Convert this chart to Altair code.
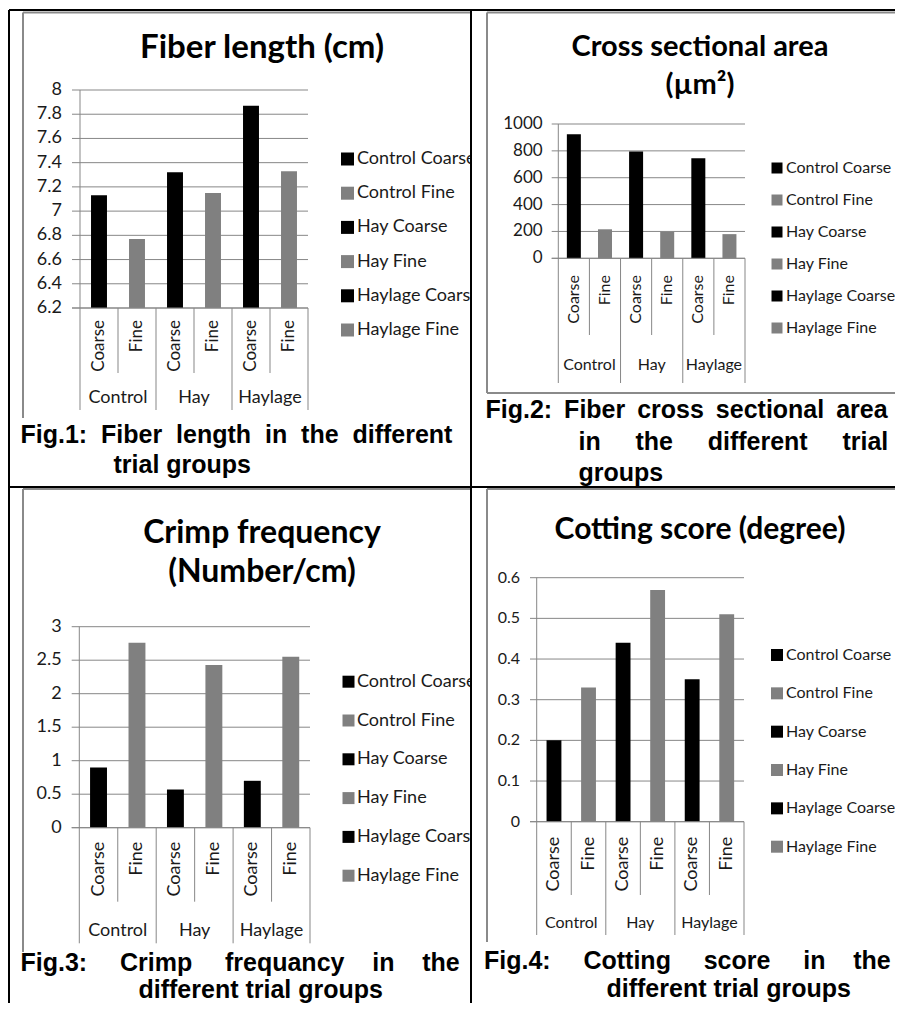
import altair as alt
import pandas as pd

# ---------------- data ----------------
groups = ["Control", "Hay", "Haylage"]
fiber_types = ["Coarse", "Fine"]
series_names = ["Control Coarse", "Control Fine", "Hay Coarse", "Hay Fine",
                "Haylage Coarse", "Haylage Fine"]

fiber_length = [7.13, 6.77, 7.32, 7.15, 7.87, 7.33]
cross_area = [923, 216, 795, 198, 745, 180]
crimp_freq = [0.90, 2.76, 0.57, 2.43, 0.70, 2.55]
cotting_score = [0.20, 0.33, 0.44, 0.57, 0.35, 0.51]

length_ticks = [6.2, 6.4, 6.6, 6.8, 7.0, 7.2, 7.4, 7.6, 7.8, 8.0]
length_tick_labels = ["6.2", "6.4", "6.6", "6.8", "7", "7.2", "7.4", "7.6", "7.8", "8"]
area_ticks = [0, 200, 400, 600, 800, 1000]
area_tick_labels = ["0", "200", "400", "600", "800", "1000"]
crimp_ticks = [0, 0.5, 1, 1.5, 2, 2.5, 3]
crimp_tick_labels = ["0", "0.5", "1", "1.5", "2", "2.5", "3"]
cotting_ticks = [0, 0.1, 0.2, 0.3, 0.4, 0.5, 0.6]
cotting_tick_labels = ["0", "0.1", "0.2", "0.3", "0.4", "0.5", "0.6"]

title_1 = ["Fiber length (cm)"]
title_2 = ["Cross sectional area", "(\u00b5m\u00b2)"]
title_3 = ["Crimp frequency", "(Number/cm)"]
title_4 = ["Cotting score (degree)"]

caption_1 = ["Fig.1: Fiber length in the different", "trial groups"]
caption_2 = ["Fig.2: Fiber cross sectional area", "in the different trial", "groups"]
caption_3 = ["Fig.3: Crimp frequancy in the", "different trial groups"]
caption_4 = ["Fig.4: Cotting score in the", "different trial groups"]

# ---------------- styles ----------------
FONT = "Lato"
CAP_FONT = "Liberation Sans"
BLACK = "#000000"
GRAY = "#808080"
GRID = "#878787"
FRAME_GRAY = "#8a8a8a"
TXT = "#1a1a1a"
NB = "\u00a0"
THIN = "\u2009"


def X(v):
    return v - 8


def Y(v):
    return v - 8


ONE = alt.Data(values=[{}])


def seg(x1, y1, x2, y2, color, width):
    return alt.Chart(ONE).mark_rule(color=color, strokeWidth=width).encode(
        x=alt.value(X(x1)), y=alt.value(Y(y1)), x2=alt.value(X(x2)), y2=alt.value(Y(y2)))


def text_line(s, x, y, size, font, weight="normal", align="center", color="#000000"):
    return alt.Chart(ONE).mark_text(
        text=s, x=X(x), y=Y(y), fontSize=size, font=font, fontWeight=weight,
        align=align, baseline="middle", color=color)


def gap(n):
    return NB * int(n) + (THIN if n % 1 else "")


def justify(line, gaps):
    words = line.split(" ")
    out = words[0]
    for w, g in zip(words[1:], gaps):
        out += gap(g) + w
    return out


def panel(values, ticks, tick_labels, titles, captions, L):
    keys = [f"{g}|{t}" for g in groups for t in fiber_types]
    types = [t for g in groups for t in fiber_types]
    bars_df = pd.DataFrame({"key": keys, "series": series_names, "ftype": types, "value": values})
    tick_df = pd.DataFrame({"t": ticks, "label": tick_labels})
    grp_df = pd.DataFrame({"group": groups})
    bnd = list(range(len(keys) + 1))
    long_df = pd.DataFrame({"b": [b for b in bnd if b % 2 == 0]})
    short_df = pd.DataFrame({"b": [b for b in bnd if b % 2 == 1]})

    xband = alt.Scale(domain=keys, range=[X(L["x0"]), X(L["x1"])],
                      paddingInner=L["pad"], paddingOuter=L["pad"] / 2)
    xq = alt.Scale(domain=[0, len(keys)], range=[X(L["x0"]), X(L["x1"])], nice=False, zero=False)
    gband = alt.Scale(domain=groups, range=[X(L["x0"]), X(L["x1"])], paddingInner=0, paddingOuter=0)
    yq = alt.Scale(domain=list(L["dom"]), range=[Y(L["yb"]), Y(L["yt"])], zero=False, nice=False)
    col = alt.Scale(domain=fiber_types, range=[BLACK, GRAY])
    lscale = alt.Scale(type="point", domain=series_names, range=[Y(L["ly0"]), Y(L["ly1"])], padding=0)

    layers = []
    # gridlines (behind bars)
    layers.append(alt.Chart(tick_df).mark_rule(color=GRID, strokeWidth=1).encode(
        y=alt.Y("t:Q", scale=yq, axis=None),
        x=alt.value(X(L["gx0"])), x2=alt.value(X(L["x1"]))))
    # y tick labels
    layers.append(alt.Chart(tick_df).mark_text(
        align="right", baseline="middle", font=FONT, fontSize=L["fy"], color=TXT).encode(
        y=alt.Y("t:Q", scale=yq, axis=None), x=alt.value(X(L["lx"])), text="label:N"))
    # bars
    layers.append(alt.Chart(bars_df).mark_bar().encode(
        x=alt.X("key:N", scale=xband, axis=None),
        y=alt.Y("value:Q", scale=yq, axis=None),
        y2=alt.datum(L["dom"][0]),
        color=alt.Color("ftype:N", scale=col, legend=None)))
    # value axis line and category baseline
    layers.append(seg(L["x0"], L["yt"], L["x0"], L["yb"], GRID, 1))
    layers.append(seg(L["gx0"], L["yb"], L["x1"], L["yb"], GRID, 1))
    # category separators
    layers.append(alt.Chart(long_df).mark_rule(color=GRID, strokeWidth=1).encode(
        x=alt.X("b:Q", scale=xq, axis=None), y=alt.value(Y(L["yb"])), y2=alt.value(Y(L["sl"]))))
    layers.append(alt.Chart(short_df).mark_rule(color=GRID, strokeWidth=1).encode(
        x=alt.X("b:Q", scale=xq, axis=None), y=alt.value(Y(L["yb"])), y2=alt.value(Y(L["ss"]))))
    # inner category labels (rotated)
    layers.append(alt.Chart(bars_df).mark_text(
        angle=270, align="right", baseline="middle", font=FONT, fontSize=L["fs"], color=TXT).encode(
        x=alt.X("key:N", scale=xband, axis=None), y=alt.value(Y(L["st"])), text="ftype:N"))
    # group labels
    layers.append(alt.Chart(grp_df).mark_text(
        align="center", baseline="middle", font=FONT, fontSize=L["fg"], color=TXT).encode(
        x=alt.X("group:N", scale=gband, axis=None), y=alt.value(Y(L["gy"])), text="group:N"))
    # legend
    leg_df = pd.DataFrame({"series": series_names, "ftype": types})
    layers.append(alt.Chart(leg_df).mark_square(size=L["lsz"], opacity=1).encode(
        x=alt.value(X(L["lsx"])), y=alt.Y("series:N", scale=lscale, axis=None),
        color=alt.Color("ftype:N", scale=col, legend=None)))
    tkw = dict(align="left", baseline="middle", font=FONT, fontSize=L["fl"], color=TXT)
    if "lim" in L:
        tkw.update(limit=L["lim"], ellipsis="\u200b")
    layers.append(alt.Chart(leg_df).mark_text(**tkw).encode(
        x=alt.value(X(L["ltx"])), y=alt.Y("series:N", scale=lscale, axis=None), text="series:N"))
    # chart title
    for s, ty in zip(titles, L["ty"]):
        layers.append(text_line(s, L["tx"], ty, L["fts"], FONT, weight="bold"))
    # caption
    for s, (cx, cy, gaps) in zip(captions, L["cap"]):
        layers.append(text_line(justify(s, gaps), cx, cy, 25, CAP_FONT, weight="bold", align="left"))
    return layers


P1 = dict(x0=80, x1=308, yt=90, yb=308, dom=(6.2, 8.0), gx0=72, lx=62, fy=18, pad=0.58,
          ss=373, sl=410, st=320, fs=17, gy=398, fg=18,
          lsx=347.5, ltx=357, ly0=159, ly1=330, lsz=169, fl=18, lim=119,
          tx=262, ty=[48], fts=33,
          cap=[(20.5, 435, [2, 2, 2, 2, 2]), (113.5, 465, [1])])
P2 = dict(x0=558.3, x1=745, yt=124, yb=258.3, dom=(0, 1000), gx0=551.7, lx=542.7, fy=17, pad=0.55,
          ss=335, sl=383, st=275, fs=16, gy=365, fg=16,
          lsx=777, ltx=786, ly0=168, ly1=328, lsz=121, fl=16,
          tx=700, ty=[46.7, 85], fts=29,
          cap=[(485.5, 410, [1.5, 1.5, 1.5, 1.5]), (578.5, 441.7, [5, 5, 5]), (578.5, 473, [])])
P3 = dict(x0=79.3, x1=310, yt=626.7, yb=827.7, dom=(0, 3), gx0=71.7, lx=61.7, fy=18, pad=0.56,
          ss=901.7, sl=943.3, st=841.7, fs=18, gy=931, fg=18,
          lsx=348.5, ltx=357, ly0=681.7, ly1=875.7, lsz=144, fl=18, lim=119,
          tx=262, ty=[533, 572], fts=32,
          cap=[(20.5, 963, [4.5, 4.5, 4, 4]), (138.5, 990, [1, 1])])
P4 = dict(x0=536.7, x1=744, yt=577.7, yb=821.7, dom=(0, 0.6), gx0=530, lx=520, fy=16, pad=0.57,
          ss=895, sl=935, st=836.7, fs=18, gy=923.3, fg=16,
          lsx=777, ltx=786, ly0=655, ly1=846.7, lsz=144, fl=16,
          tx=700, ty=[530], fts=30,
          cap=[(484, 961, [4.5, 4.5, 4.5, 4]), (606.5, 989, [1, 1])])

layers = []
# Excel chart-area borders (gray)
layers += [
    seg(23, 12.5, 23, 418, FRAME_GRAY, 2), seg(23, 12.5, 471, 12.5, FRAME_GRAY, 2),
    seg(487, 12.5, 487, 393, FRAME_GRAY, 2), seg(487, 12.5, 903, 12.5, FRAME_GRAY, 2),
    seg(487, 393, 903, 393, FRAME_GRAY, 2),
    seg(23, 489, 23, 952, FRAME_GRAY, 2), seg(23, 489, 471, 489, FRAME_GRAY, 2),
    seg(487, 489, 487, 942, FRAME_GRAY, 2), seg(487, 489, 903, 489, FRAME_GRAY, 2),
]
layers += panel(fiber_length, length_ticks, length_tick_labels, title_1, caption_1, P1)
layers += panel(cross_area, area_ticks, area_tick_labels, title_2, caption_2, P2)
layers += panel(crimp_freq, crimp_ticks, crimp_tick_labels, title_3, caption_3, P3)
layers += panel(cotting_score, cotting_ticks, cotting_tick_labels, title_4, caption_4, P4)
# white gap right of the middle frame line (hides overflowing legend text)
layers.append(seg(478, 140, 478, 345, "#ffffff", 12))
layers.append(seg(478, 660, 478, 890, "#ffffff", 12))
# black table frame
layers += [
    seg(9, 10, 903, 10, BLACK, 2), seg(9, 10, 9, 1011, BLACK, 2),
    seg(471, 10, 471, 1011, BLACK, 2), seg(9, 487, 903, 487, BLACK, 2),
]

chart = alt.layer(*layers).resolve_scale(
    x="independent", y="independent", color="independent"
).properties(
    width=887, height=995, padding=0, autosize=alt.AutoSizeParams(type="none")
).configure_view(strokeWidth=0)

chart.save("out.html", embed_options={"renderer": "svg", "actions": False})
